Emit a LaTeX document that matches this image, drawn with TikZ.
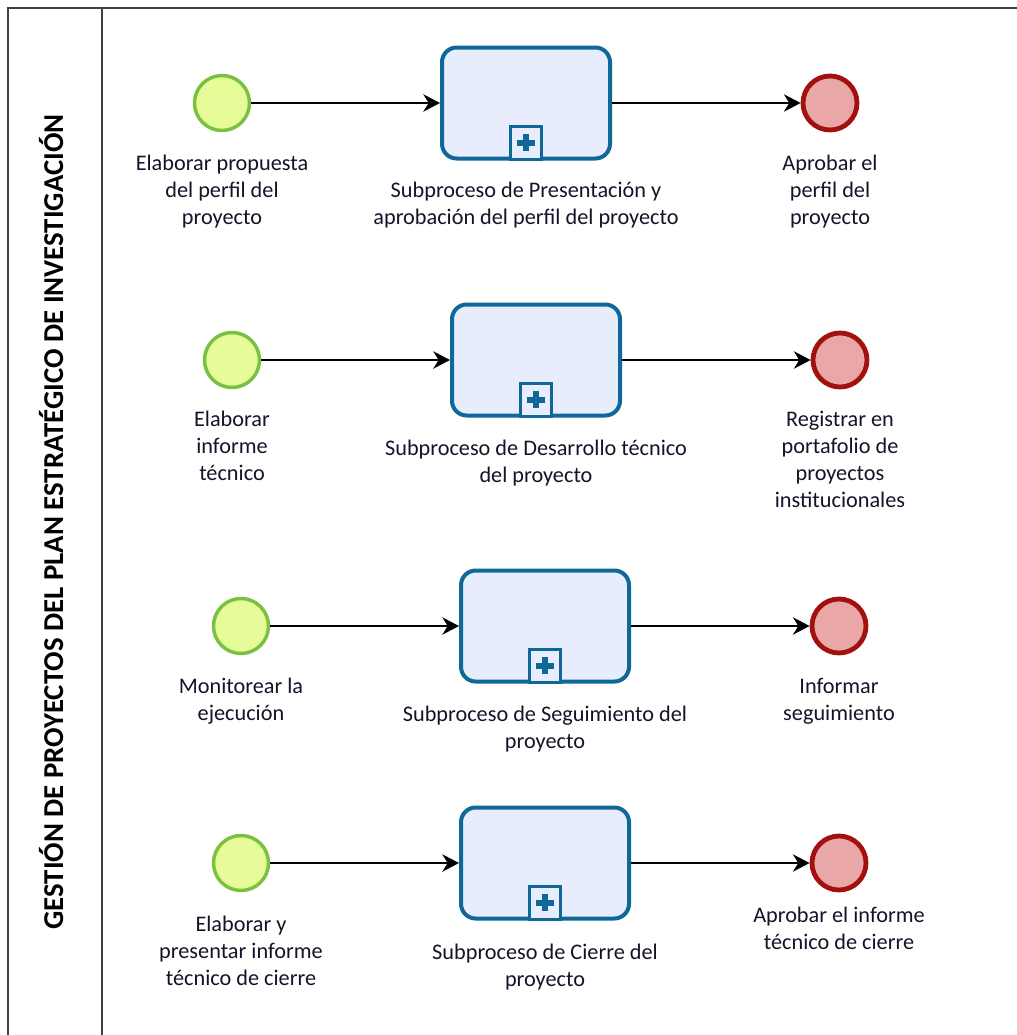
\documentclass[tikz,border=0pt]{standalone}
\usepackage{fontspec}
\setmainfont{Carlito}
\usetikzlibrary{arrows.meta}
\definecolor{taskline}{RGB}{16,104,152}
\definecolor{taskfill}{RGB}{232,237,253}
\definecolor{startfill}{RGB}{229,252,152}
\definecolor{startline}{RGB}{122,193,66}
\definecolor{endfill}{RGB}{234,167,167}
\definecolor{endline}{RGB}{162,16,16}
\definecolor{lanecol}{RGB}{64,64,64}
\definecolor{txtcol}{RGB}{20,20,40}
\tikzset{
  startev/.style={circle,draw=startline,fill=startfill,line width=2.6pt,minimum size=55*0.75pt,inner sep=0pt},
  endev/.style={circle,draw=endline,fill=endfill,line width=3.6pt,minimum size=54*0.75pt,inner sep=0pt},
  subproc/.style={rounded corners=11pt,draw=taskline,fill=taskfill,line width=3pt,minimum width=168*0.75pt,minimum height=111*0.75pt,inner sep=0pt},
  mkbox/.style={draw=taskline,fill=taskfill,line width=1.8pt,minimum width=31*0.75pt,minimum height=33*0.75pt,inner sep=0pt,anchor=south},
  lbl/.style={align=center,inner sep=0pt,anchor=north,text=txtcol,font=\fontsize{16.7}{20.25}\selectfont},
  flow/.style={line width=1.5pt,black,-{Stealth[length=12.5pt,width=13pt,inset=4pt]}},
  lane/.style={draw=lanecol,line width=1.9pt},
}
\begin{document}
\begin{tikzpicture}[x=0.75pt,y=-0.75pt]
\useasboundingbox (0,0) rectangle (1017,1035);
% lane
\coordinate (tl) at (8,8);
\coordinate (tr) at (1020,8);
\coordinate (bl) at (8,1040);
\coordinate (dt) at (102,8);
\coordinate (db) at (102,1040);
\draw[lane] (bl) -- (tl) -- (tr);
\draw[lane] (dt) -- (db);
\node[rotate=90,anchor=base,font=\bfseries\fontsize{21.6}{24}\selectfont,text=black,inner sep=0pt] (title) at (63,522) {GESTIÓN DE PROYECTOS DEL PLAN ESTRATÉGICO DE INVESTIGACIÓN};

% Row 1
\node[startev] (s1) at (222,103) {};
\node[subproc] (p1) at (526,103) {};
\node[endev] (e1) at (830,103) {};
\node[mkbox] (m1) at (p1.south) {};
\draw[taskline,line width=4.5pt] ([xshift=-6.5pt]m1.center) -- ([xshift=6.5pt]m1.center) ([yshift=-6.5pt]m1.center) -- ([yshift=6.5pt]m1.center);
\draw[flow] (s1) -- (p1);
\draw[flow] (p1) -- (e1);
\node[lbl] (ls1) at (222,155) {Elaborar propuesta\\del perfil del\\proyecto};
\node[lbl] (lp1) at (526,182) {Subproceso de Presentación y\\aprobación del perfil del proyecto};
\node[lbl] (le1) at (830,155) {Aprobar el\\perfil del\\proyecto};

% Row 2
\node[startev] (s2) at (232,360) {};
\node[subproc] (p2) at (536,360) {};
\node[endev] (e2) at (840,360) {};
\node[mkbox] (m2) at (p2.south) {};
\draw[taskline,line width=4.5pt] ([xshift=-6.5pt]m2.center) -- ([xshift=6.5pt]m2.center) ([yshift=-6.5pt]m2.center) -- ([yshift=6.5pt]m2.center);
\draw[flow] (s2) -- (p2);
\draw[flow] (p2) -- (e2);
\node[lbl] (ls2) at (232,411) {Elaborar\\informe\\técnico};
\node[lbl] (lp2) at (536,440) {Subproceso de Desarrollo técnico\\del proyecto};
\node[lbl] (le2) at (840,411) {Registrar en\\portafolio de\\proyectos\\institucionales};

% Row 3
\node[startev] (s3) at (241,626) {};
\node[subproc] (p3) at (545,626) {};
\node[endev] (e3) at (839,626) {};
\node[mkbox] (m3) at (p3.south) {};
\draw[taskline,line width=4.5pt] ([xshift=-6.5pt]m3.center) -- ([xshift=6.5pt]m3.center) ([yshift=-6.5pt]m3.center) -- ([yshift=6.5pt]m3.center);
\draw[flow] (s3) -- (p3);
\draw[flow] (p3) -- (e3);
\node[lbl] (ls3) at (241,678) {Monitorear la\\ejecución};
\node[lbl] (lp3) at (545,706) {Subproceso de Seguimiento del\\proyecto};
\node[lbl] (le3) at (839,678) {Informar\\seguimiento};

% Row 4
\node[startev] (s4) at (241,863) {};
\node[subproc] (p4) at (545,863) {};
\node[endev] (e4) at (839,863) {};
\node[mkbox] (m4) at (p4.south) {};
\draw[taskline,line width=4.5pt] ([xshift=-6.5pt]m4.center) -- ([xshift=6.5pt]m4.center) ([yshift=-6.5pt]m4.center) -- ([yshift=6.5pt]m4.center);
\draw[flow] (s4) -- (p4);
\draw[flow] (p4) -- (e4);
\node[lbl] (ls4) at (241,916) {Elaborar y\\presentar informe\\técnico de cierre};
\node[lbl] (lp4) at (545,944) {Subproceso de Cierre del\\proyecto};
\node[lbl] (le4) at (839,907) {Aprobar el informe\\técnico de cierre};
\end{tikzpicture}
\end{document}
